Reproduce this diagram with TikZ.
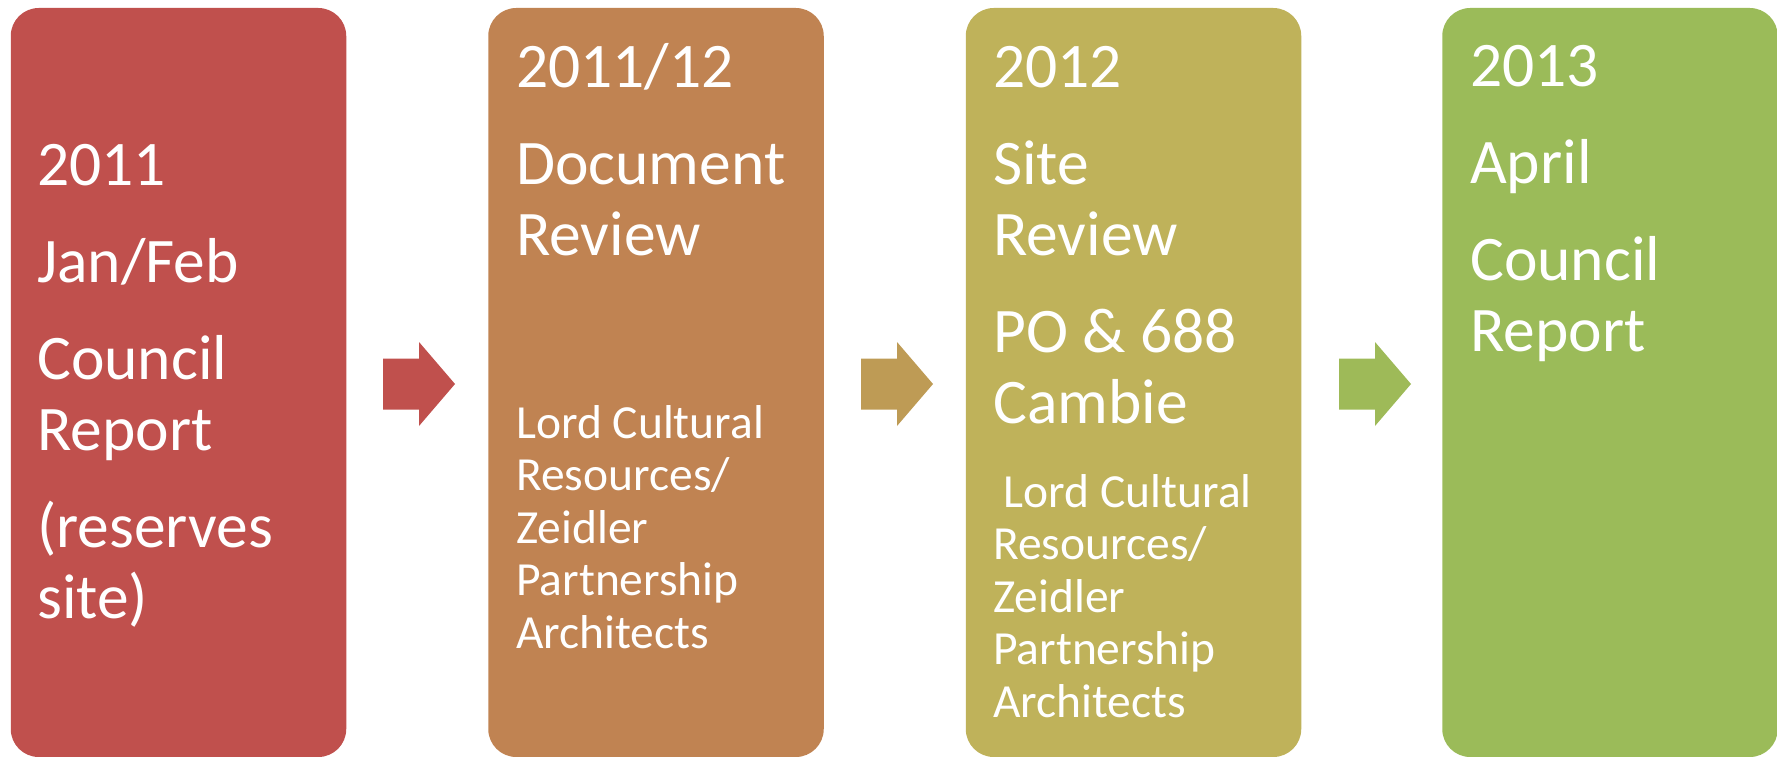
\documentclass[tikz,border=0pt]{standalone}
\usepackage{fontspec}
\setmainfont{Carlito}
\definecolor{stepred}{HTML}{C0504D}
\definecolor{stepbrown}{HTML}{C08352}
\definecolor{stepolive}{HTML}{BFB25A}
\definecolor{stepgreen}{HTML}{9BBB59}
\definecolor{arrowtan}{HTML}{BE9B55}
\definecolor{arrowlime}{HTML}{9EBA58}
\begin{document}
\begin{tikzpicture}[x=1pt, y=-1pt,
  stage/.style={rectangle, rounded corners=28pt, minimum width=335.5pt,
    minimum height=749pt, inner sep=0pt},
  big/.style={anchor=base west, inner sep=0pt, text=white, text width=310pt,
    align=flush left, font=\fontsize{63.5}{71}\selectfont},
  small/.style={anchor=base west, inner sep=0pt, text=white, text width=300pt,
    align=flush left, font=\fontsize{47.5}{52.5}\selectfont}]
  \useasboundingbox (0,0) rectangle (1777,757);
  % okvirji
  \node [stage, fill=stepred] (s1) at (178.5, 382.5) {};
  \node [stage, fill=stepbrown] (s2) at (656, 382.5) {};
  \node [stage, fill=stepolive] (s3) at (1133.5, 382.5) {};
  \node [stage, fill=stepgreen] (s4) at (1610, 382.5) {};
  % puscice
  \coordinate (a1) at (419, 384);
  \coordinate (a2) at (897, 384);
  \coordinate (a3) at (1375, 384);
  \fill [stepred, shift={(a1)}] (-36,-25.5) -- (0,-25.5) -- (0,-42) -- (36,0)
        -- (0,42) -- (0,25.5) -- (-36,25.5) -- cycle;
  \fill [arrowtan, shift={(a2)}] (-36,-25.5) -- (0,-25.5) -- (0,-42) -- (36,0)
        -- (0,42) -- (0,25.5) -- (-36,25.5) -- cycle;
  \fill [arrowlime, shift={(a3)}] (-36,-25.5) -- (0,-25.5) -- (0,-42) -- (36,0)
        -- (0,42) -- (0,25.5) -- (-36,25.5) -- cycle;
  % besedilo
  \node [big] (t1) at (37, 185) {2011\\[26pt] Jan/Feb\\[26pt] Council\\ Report\\[26pt] (reserves\\ site)};
  \node [big] (t2) at (516, 88) {2011/12\\[26pt] Document\\ Review};
  \node [small] (n2) at (516, 438) {Lord Cultural\\ Resources/\\ Zeidler\\ Partnership\\ Architects};
  \node [big] (t3) at (993, 88) {2012\\[26pt] Site\\ Review\\[26pt] PO \& 688\\ Cambie};
  \node [small] (n3) at (993, 507) {~Lord Cultural\\ Resources/\\ Zeidler\\ Partnership\\ Architects};
  \node [big] (t4) at (1470, 87) {2013\\[26pt] April\\[26pt] Council\\ Report};
\end{tikzpicture}
\end{document}
